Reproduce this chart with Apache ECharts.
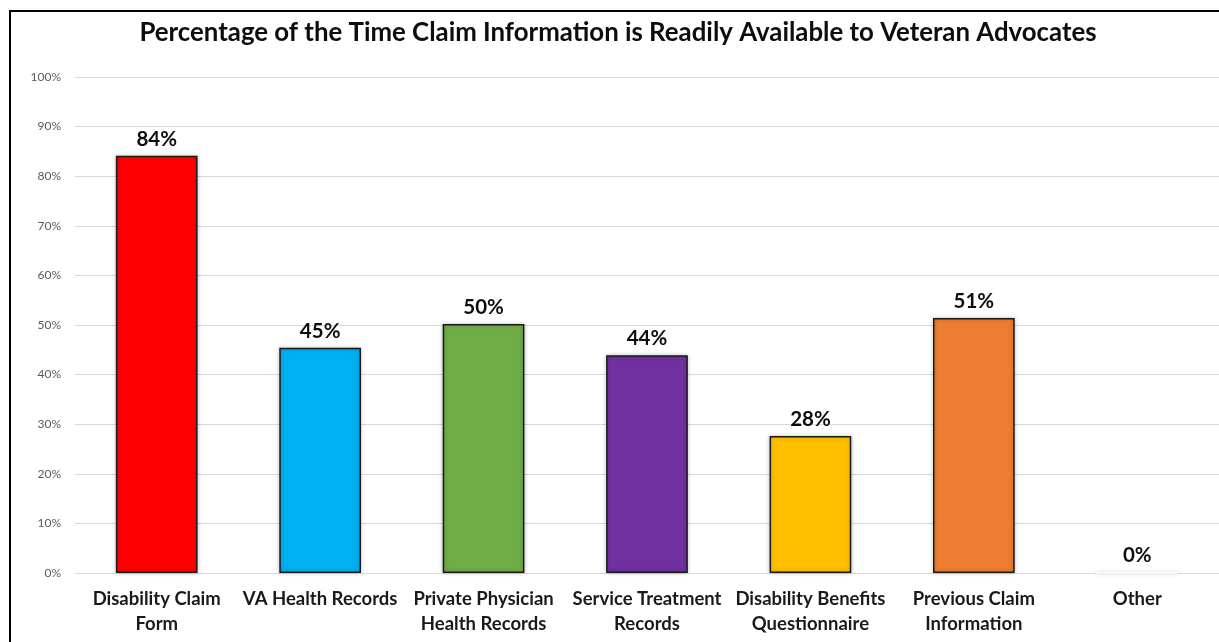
<!DOCTYPE html>
<html><head><meta charset="utf-8">
<script src="https://cdn.jsdelivr.net/npm/echarts@6/dist/echarts.min.js"></script>
<style>html,body{margin:0;padding:0;background:#fff}#c{width:1219px;height:642px}</style>
</head><body><div id="c"></div>
<script>
const categories = ["Disability Claim\nForm", "VA Health Records", "Private Physician\nHealth Records", "Service Treatment\nRecords", "Disability Benefits\nQuestionnaire", "Previous Claim\nInformation", "Other"];
const values = [84.1, 45.4, 50.2, 43.9, 27.6, 51.4, 0];
const colors = ["#ff0000", "#00b0f0", "#70ad47", "#7030a0", "#ffc000", "#ed7d31", "#ffffff"];
const titleText = "Percentage of the Time Claim Information is Readily Available to Veteran Advocates";

const chart = echarts.init(document.getElementById('c'));
chart.setOption({
  animation: false,
  title: { text: titleText, left: 613, top: 15, textAlign: 'center',
    textStyle: { fontFamily: 'Lato', fontWeight: 'bold', fontSize: 25.8, color: '#0d0d0d' } },
  graphic: [{ type: 'rect', shape: { x: 10, y: 11, width: 1300, height: 700 },
    style: { fill: 'none', stroke: '#000', lineWidth: 2 }, silent: true }],
  grid: { left: 75, right: -1, top: 77, bottom: 69, containLabel: false },
  xAxis: { type: 'category', data: categories,
    axisLine: { show: false }, axisTick: { show: false },
    axisLabel: { interval: 0, margin: 14, fontFamily: 'Lato', fontWeight: 'bold', fontSize: 18.5, color: '#1a1a1a', lineHeight: 25 } },
  yAxis: { type: 'value', min: 0, max: 100, interval: 10,
    axisLine: { show: false }, axisTick: { show: false },
    splitLine: { lineStyle: { color: '#d9d9d9', width: 1 } },
    axisLabel: { formatter: '{value}%', fontFamily: 'Lato', fontSize: 12, color: '#595959', margin: 14 } },
  series: [{ type: 'bar', barWidth: '50%',
    data: values.map((v, i) => ({ value: v, itemStyle: { color: colors[i], borderColor: i === 6 ? '#ffffff' : '#1a1a1a', borderWidth: 1.5,
      shadowBlur: 4, shadowColor: 'rgba(0,0,0,0.25)', shadowOffsetY: 0 } })),
    label: { show: true, position: 'top', distance: 6, formatter: p => Math.round(p.value) + '%',
      fontFamily: 'Lato', fontWeight: 'bold', fontSize: 20.5, color: '#0d0d0d' } }]
});
</script></body></html>
